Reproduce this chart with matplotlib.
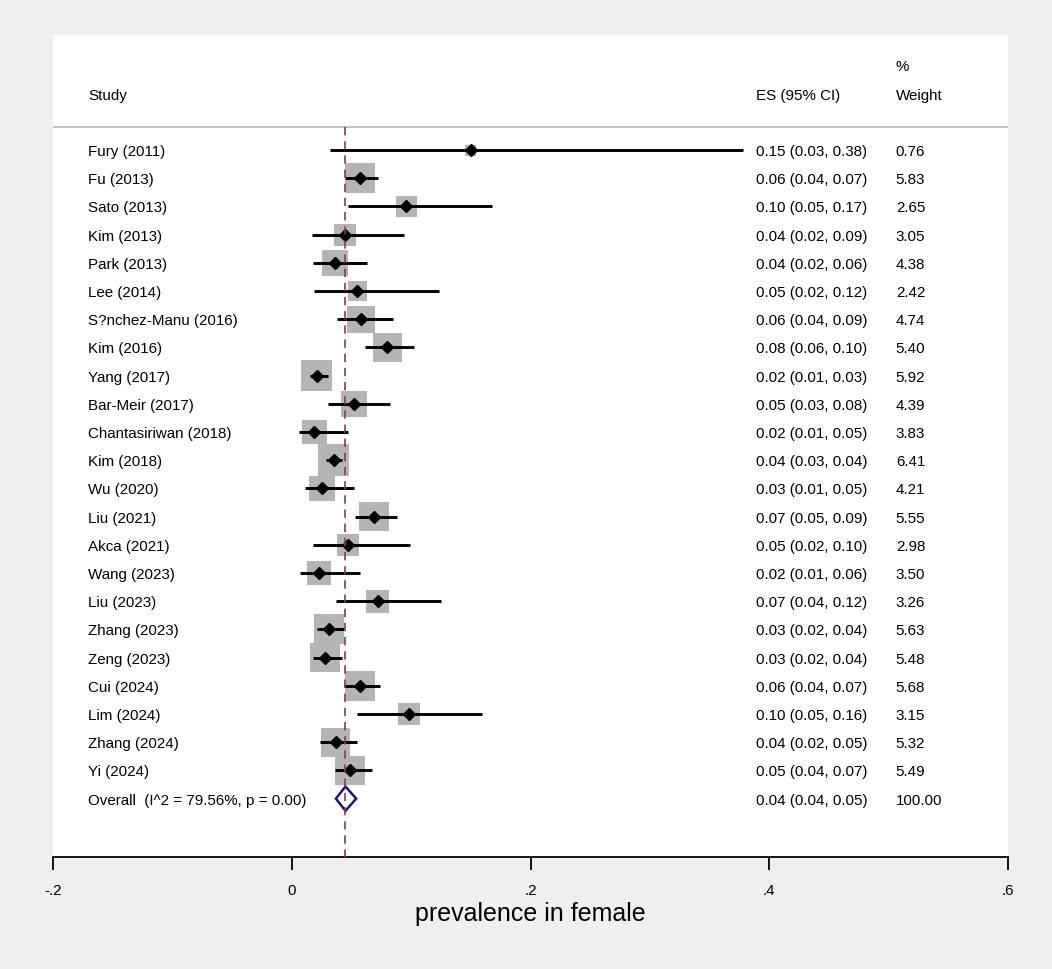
import numpy as np
import matplotlib
matplotlib.use('Agg')
import matplotlib.pyplot as plt
from matplotlib.patches import Polygon

plt.rcParams['font.family'] = ['Liberation Sans', 'DejaVu Sans']

studies = ["Fury (2011)", "Fu (2013)", "Sato (2013)", "Kim (2013)", "Park (2013)",
           "Lee (2014)", "S?nchez-Manu (2016)", "Kim (2016)", "Yang (2017)",
           "Bar-Meir (2017)", "Chantasiriwan (2018)", "Kim (2018)", "Wu (2020)",
           "Liu (2021)", "Akca (2021)", "Wang (2023)", "Liu (2023)", "Zhang (2023)",
           "Zeng (2023)", "Cui (2024)", "Lim (2024)", "Zhang (2024)", "Yi (2024)"]
es = [0.150, 0.057, 0.096, 0.045, 0.036, 0.055, 0.058, 0.080, 0.021, 0.052, 0.019, 0.035,
      0.025, 0.069, 0.047, 0.023, 0.072, 0.031, 0.028, 0.057, 0.098, 0.037, 0.049]
lo = [0.032, 0.045, 0.047, 0.017, 0.018, 0.019, 0.038, 0.061, 0.015, 0.030, 0.006, 0.029,
      0.011, 0.053, 0.018, 0.007, 0.037, 0.021, 0.018, 0.044, 0.055, 0.024, 0.036]
hi = [0.378, 0.072, 0.168, 0.094, 0.063, 0.123, 0.085, 0.102, 0.030, 0.082, 0.047, 0.042,
      0.052, 0.088, 0.099, 0.057, 0.125, 0.044, 0.042, 0.074, 0.159, 0.055, 0.067]
weights = [0.76, 5.83, 2.65, 3.05, 4.38, 2.42, 4.74, 5.40, 5.92, 4.39, 3.83, 6.41,
           4.21, 5.55, 2.98, 3.50, 3.26, 5.63, 5.48, 5.68, 3.15, 5.32, 5.49]
es_text = ["0.15 (0.03, 0.38)", "0.06 (0.04, 0.07)", "0.10 (0.05, 0.17)", "0.04 (0.02, 0.09)",
           "0.04 (0.02, 0.06)", "0.05 (0.02, 0.12)", "0.06 (0.04, 0.09)", "0.08 (0.06, 0.10)",
           "0.02 (0.01, 0.03)", "0.05 (0.03, 0.08)", "0.02 (0.01, 0.05)", "0.04 (0.03, 0.04)",
           "0.03 (0.01, 0.05)", "0.07 (0.05, 0.09)", "0.05 (0.02, 0.10)", "0.02 (0.01, 0.06)",
           "0.07 (0.04, 0.12)", "0.03 (0.02, 0.04)", "0.03 (0.02, 0.04)", "0.06 (0.04, 0.07)",
           "0.10 (0.05, 0.16)", "0.04 (0.02, 0.05)", "0.05 (0.04, 0.07)"]
weight_text = ["%.2f" % w for w in weights]

overall_label = "Overall  (I^2 = 79.56%, p = 0.00)"
overall_es = 0.045
overall_lo = 0.037
overall_hi = 0.054
overall_text = "0.04 (0.04, 0.05)"
overall_weight = "100.00"

xticks = [-0.2, 0, 0.2, 0.4, 0.6]
xtick_labels = ["-.2", "0", ".2", ".4", ".6"]

fig = plt.figure(figsize=(10.52, 9.69), dpi=100, facecolor='#efefef')
ax = fig.add_axes([53/1052, 1-857/969, 955/1052, 822/969])
ax.set_facecolor('white')
ax.set_xlim(-0.2, 0.6)
ax.set_ylim(25.07, -4.08)

rows = np.arange(len(studies))
fs = 10.9
dy = 0.07  # text sits a touch lower than centre

# boxes sized by weight (area ~ weight)
sizes = [(12.6*np.sqrt(w)*0.72)**2 for w in weights]
ax.scatter(es, rows, s=sizes, marker='s', color='#b4b4b4', linewidths=0, zorder=2)
ax.hlines(rows, lo, hi, color='black', linewidth=2.1, zorder=3)
ax.plot(es, rows, 'D', color='black', markersize=6, zorder=4)

# overall diamond
oy = len(studies)
h = 0.43
diamond = Polygon([(overall_lo, oy), (overall_es, oy - h), (overall_hi, oy), (overall_es, oy + h)],
                  closed=True, facecolor='white', edgecolor='#1a1a6e', linewidth=1.8, zorder=3)
ax.add_patch(diamond)

# reference line at overall estimate
ax.vlines(overall_es, -0.82, 25.07, color='#8b3a4a', linewidth=1.2, linestyles=(0, (5, 3.5)), zorder=5)

# header
ax.axhline(-0.82, color='#bdbdbd', linewidth=1.3)
ax.text(-0.1707, -2 + dy, "Study", fontsize=fs, va='center')
ax.text(0.389, -2 + dy, "ES (95% CI)", fontsize=fs, va='center')
ax.text(0.506, -2 + dy, "Weight", fontsize=fs, va='center')
ax.text(0.506, -3 + dy, "%", fontsize=fs, va='center')

for i in rows:
    ax.text(-0.1707, i + dy, studies[i], fontsize=fs, va='center')
    ax.text(0.389, i + dy, es_text[i], fontsize=fs, va='center')
    ax.text(0.506, i + dy, weight_text[i], fontsize=fs, va='center')
ax.text(-0.1707, oy + dy, overall_label, fontsize=fs, va='center')
ax.text(0.389, oy + dy, overall_text, fontsize=fs, va='center')
ax.text(0.506, oy + dy, overall_weight, fontsize=fs, va='center')

for side in ['top', 'left', 'right']:
    ax.spines[side].set_visible(False)
ax.spines['bottom'].set_linewidth(1.3)
ax.set_yticks([])
ax.set_xticks(xticks)
ax.set_xticklabels(xtick_labels, fontsize=fs)
ax.tick_params(axis='x', length=9.5, width=1.3, pad=10)
ax.set_xlabel("prevalence in female", fontsize=18, labelpad=3)

plt.savefig('out.png', dpi=100, facecolor=fig.get_facecolor())
